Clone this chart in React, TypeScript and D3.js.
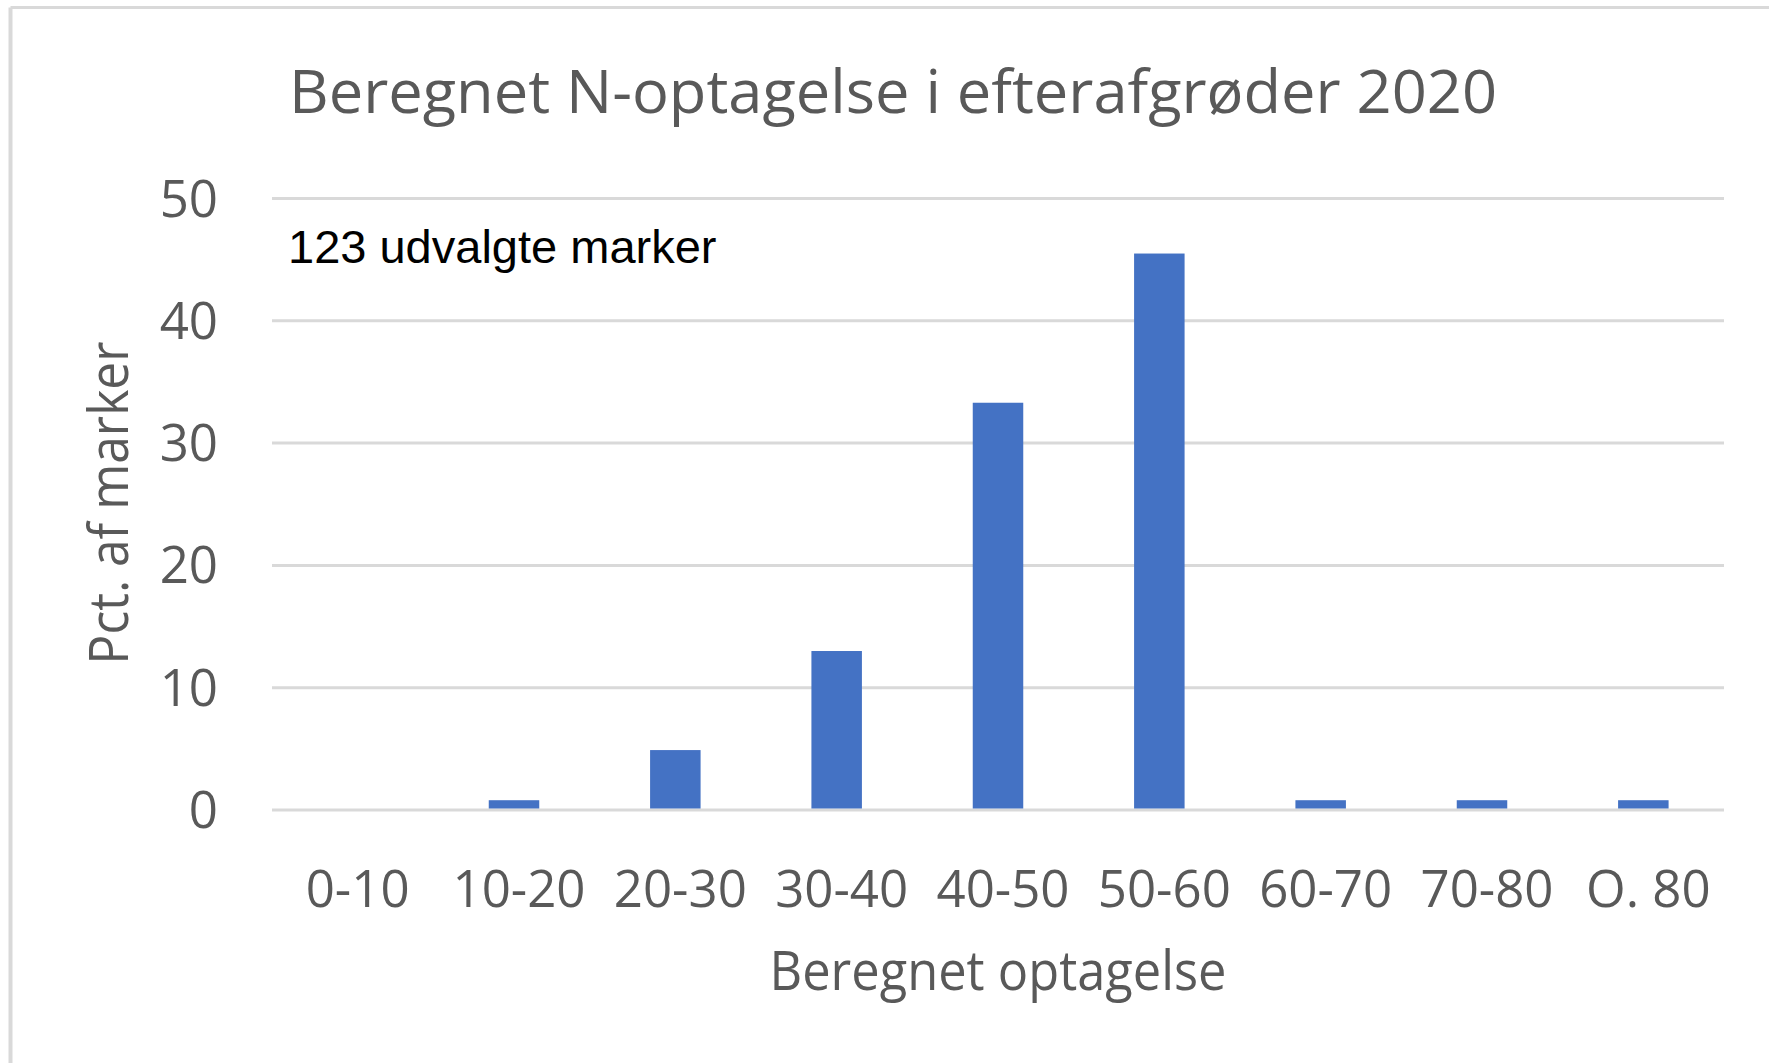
import React, { useEffect } from 'react';
import * as d3 from 'd3';

// data (pct of 123 fields)
const categories = ['0-10', '10-20', '20-30', '30-40', '40-50', '50-60', '60-70', '70-80', 'O. 80'];
const pctValues = [0, 0.8, 4.9, 13.0, 33.3, 45.5, 0.8, 0.8, 0.8];
const yTicks = [0, 10, 20, 30, 40, 50];

const chartTitle = 'Beregnet N-optagelse i efterafgrøder 2020';
const xTitle = 'Beregnet optagelse';
const yTitle = 'Pct. af marker';
const note = '123 udvalgte marker';

const W = 1769;
const H = 1063;
const margin = { top: 198.5, right: 45, bottom: 253, left: 272 };

const App: React.FC = () => {
  useEffect(() => {
    document.body.style.margin = '0';
  }, []);

  const x = d3
    .scaleBand<string>()
    .domain(categories)
    .range([margin.left, W - margin.right])
    .paddingInner(0.687)
    .paddingOuter(0.3435);
  const y = d3.scaleLinear().domain([0, 50]).range([H - margin.bottom, margin.top]);

  const grey = '#595959';
  const font = "'Open Sans', sans-serif";

  return (
    <svg width={W} height={H} style={{ display: 'block', background: '#fff' }}>
      {/* chart border: only top and left edges are visible in the crop */}
      <line x1={10.5} y1={7.5} x2={W} y2={7.5} stroke="#d9d9d9" strokeWidth={3} />
      <line x1={10.5} y1={7.5} x2={10.5} y2={H} stroke="#d9d9d9" strokeWidth={4} />

      <text x={289} y={113} fill={grey} fontFamily={font} fontSize={60} textLength={1208} lengthAdjust="spacingAndGlyphs">
        {chartTitle}
      </text>

      {yTicks.map((t) => (
        <g key={t}>
          <line x1={margin.left} x2={W - margin.right} y1={y(t)} y2={y(t)} stroke="#d9d9d9" strokeWidth={3} />
          <text x={218} y={y(t) + 18} fill={grey} fontFamily={font} fontSize={51} textAnchor="end">
            {t}
          </text>
        </g>
      ))}

      {categories.map((c, i) => (
        <rect
          key={c}
          x={x(c)!}
          width={x.bandwidth()}
          y={y(pctValues[i])}
          height={y(0) - y(pctValues[i]) - 1.5}
          fill="#4472C4"
        />
      ))}

      {categories.map((c) => (
        <text key={c} x={x(c)! + x.bandwidth() / 2 + 5} y={907} fill={grey} fontFamily={font} fontSize={51} textAnchor="middle">
          {c}
        </text>
      ))}

      <text x={(margin.left + W - margin.right) / 2} y={990} fill={grey} fontFamily={font} fontSize={54} textAnchor="middle" textLength={457} lengthAdjust="spacingAndGlyphs">
        {xTitle}
      </text>

      <text
        transform={`translate(128,503) rotate(-90)`}
        fill={grey}
        fontFamily={font}
        fontSize={54}
        textAnchor="middle"
        textLength={323}
        lengthAdjust="spacingAndGlyphs"
      >
        {yTitle}
      </text>

      <text x={288} y={263} fill="#000" fontFamily="'Liberation Sans', Arial, sans-serif" fontSize={47}>
        {note}
      </text>
    </svg>
  );
};

export default App;
